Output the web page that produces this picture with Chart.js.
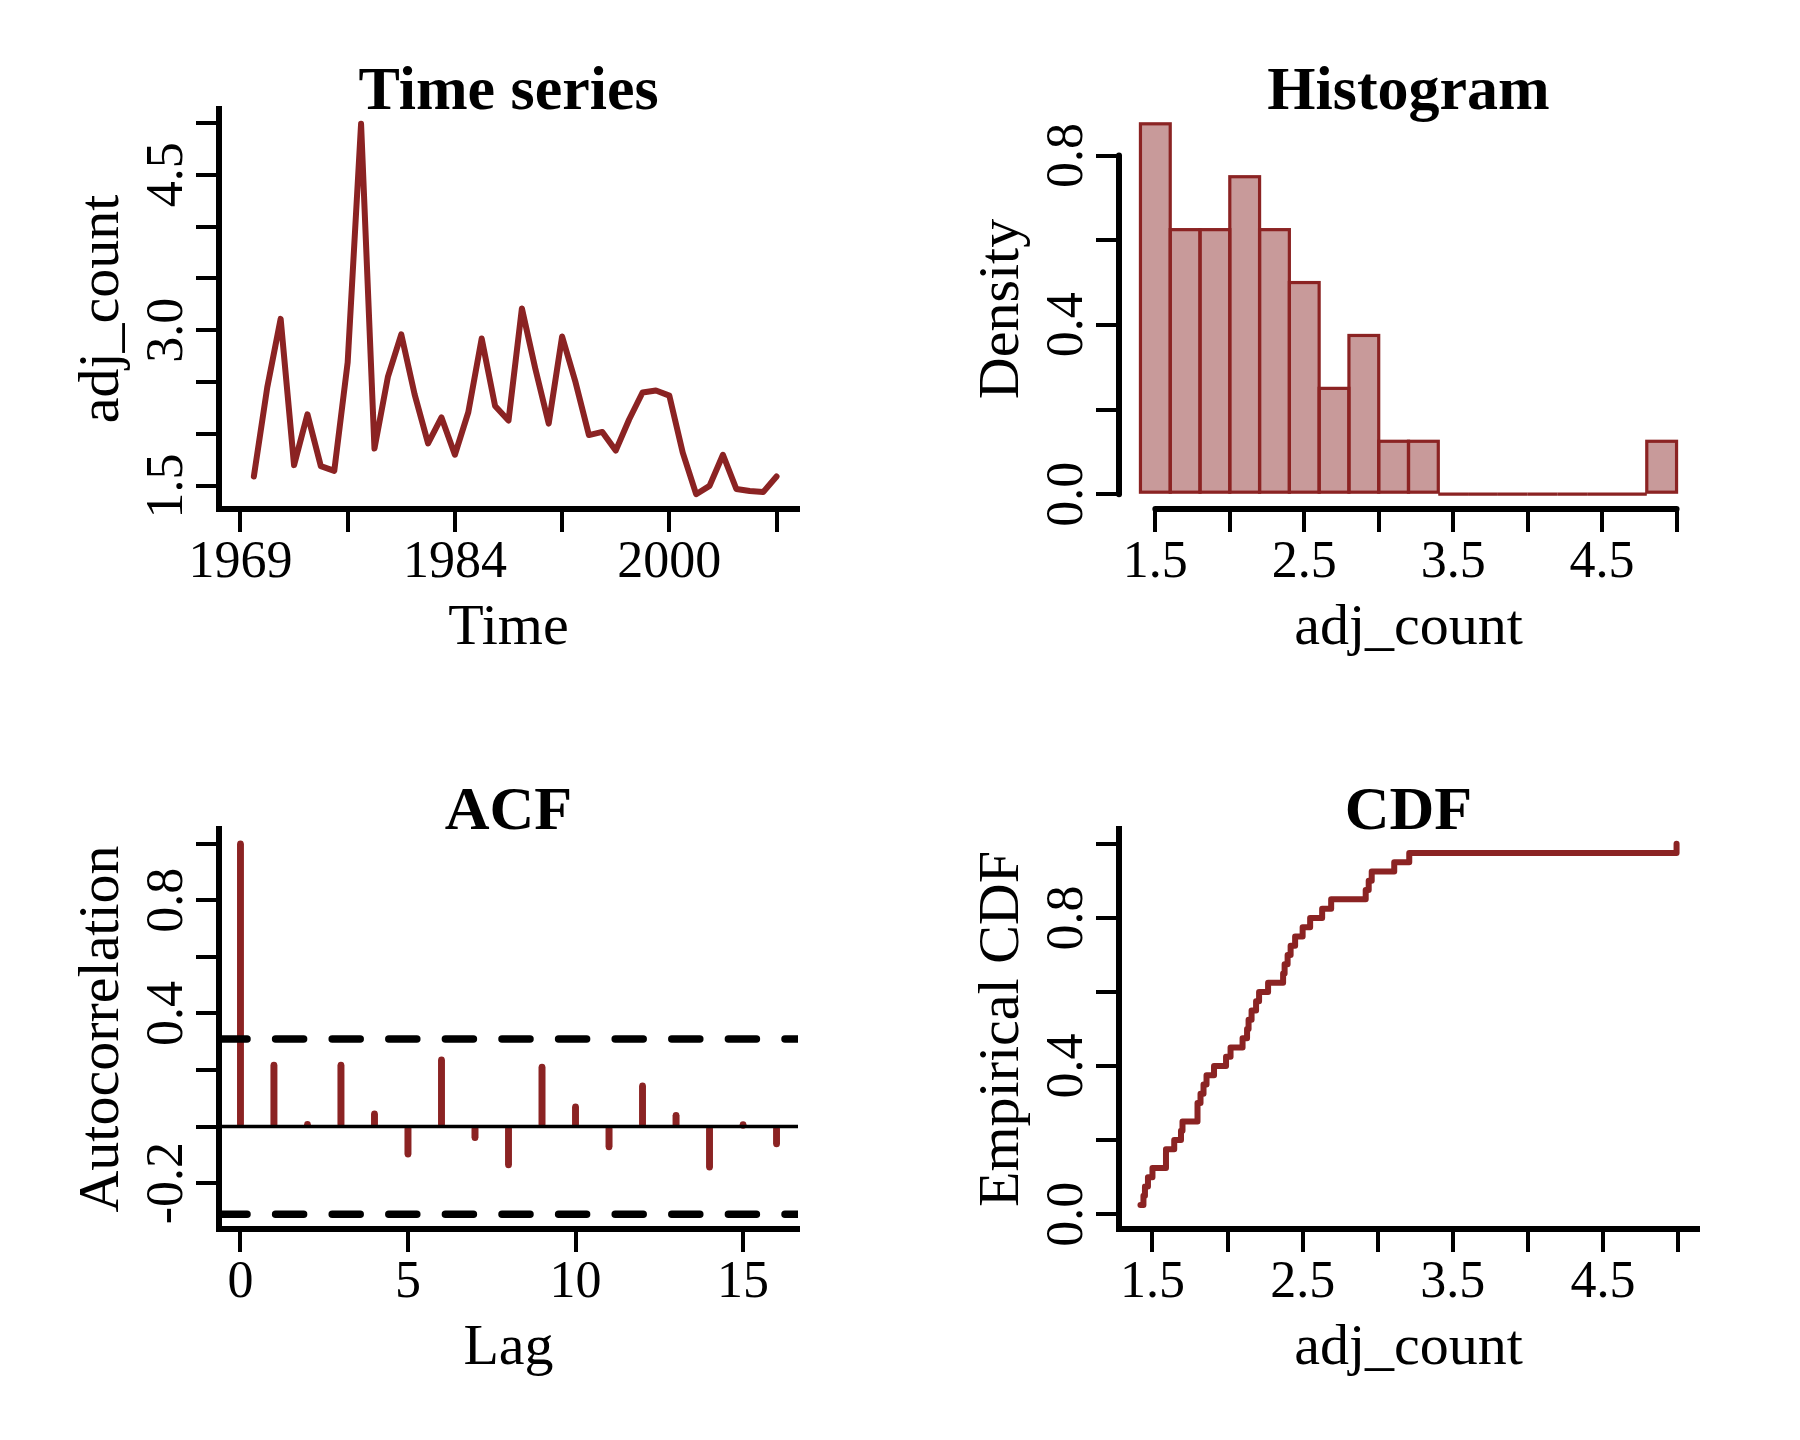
<!DOCTYPE html>
<html>
<head>
<meta charset="utf-8">
<script src="https://cdn.jsdelivr.net/npm/chart.js@4.4.1/dist/chart.umd.min.js"></script>
<style>
html, body { margin: 0; padding: 0; background: #ffffff; }
#wrap { position: relative; width: 1800px; height: 1440px; background: #ffffff; }
.panel { position: absolute; width: 900px; height: 720px; }
.panel canvas { display: block; }
</style>
</head>
<body>
<div id="wrap">
  <div class="panel" style="left:0px;top:0px"><canvas id="cTime" width="900" height="720"></canvas></div>
  <div class="panel" style="left:900px;top:0px"><canvas id="cHist" width="900" height="720"></canvas></div>
  <div class="panel" style="left:0px;top:720px"><canvas id="cAcf" width="900" height="720"></canvas></div>
  <div class="panel" style="left:900px;top:720px"><canvas id="cCdf" width="900" height="720"></canvas></div>
</div>
<script>
// ---------------- data ----------------
const years = [1970, 1971, 1972, 1973, 1974, 1975, 1976, 1977, 1978, 1979,
               1980, 1981, 1982, 1983, 1984, 1985, 1986, 1987, 1988, 1989,
               1990, 1991, 1992, 1993, 1994, 1995, 1996, 1997, 1998, 1999,
               2000, 2001, 2002, 2003, 2004, 2005, 2006, 2007, 2008, 2009];
const adjCount = [1.59, 2.45, 3.11, 1.70, 2.19, 1.69, 1.645, 2.69, 4.99, 1.86,
                  2.55, 2.96, 2.38, 1.91, 2.16, 1.80, 2.21, 2.92, 2.27, 2.13,
                  3.21, 2.63, 2.10, 2.94, 2.50, 1.99, 2.02, 1.84, 2.14, 2.40,
                  2.42, 2.37, 1.82, 1.42, 1.50, 1.80, 1.47, 1.45, 1.44, 1.59];

const timeTicks = [1969, 1977, 1985, 1993, 2001, 2009];
const timeTickLabels = ['1969', '', '1984', '', '2000', ''];

const countTicks = [1.5, 2.0, 2.5, 3.0, 3.5, 4.0, 4.5, 5.0];
const countTickLabelsY = ['1.5', '', '', '3.0', '', '', '4.5', ''];
const countTickLabelsX = ['1.5', '', '2.5', '', '3.5', '', '4.5', ''];

const histBreaks = [1.4, 1.6, 1.8, 2.0, 2.2, 2.4, 2.6, 2.8, 3.0, 3.2,
                    3.4, 3.6, 3.8, 4.0, 4.2, 4.4, 4.6, 4.8, 5.0];
const histDensity = [0.875, 0.625, 0.625, 0.75, 0.625, 0.5, 0.25, 0.375, 0.125,
                     0.125, 0, 0, 0, 0, 0, 0, 0, 0.125];
const densityTicks = [0.0, 0.2, 0.4, 0.6, 0.8];
const densityTickLabels = ['0.0', '', '0.4', '', '0.8'];

const lags = [0, 1, 2, 3, 4, 5, 6, 7, 8, 9, 10, 11, 12, 13, 14, 15, 16];
const acfValues = [1.0, 0.218, 0.008, 0.218, 0.045, -0.098, 0.236, -0.040, -0.136,
                   0.211, 0.070, -0.072, 0.144, 0.040, -0.144, 0.004, -0.062];
const acfCI = 0.31;
const lagTicks = [0, 5, 10, 15];
const lagTickLabels = ['0', '5', '10', '15'];
const acfTicks = [-0.2, 0.0, 0.2, 0.4, 0.6, 0.8, 1.0];
const acfTickLabels = ['-0.2', '', '', '0.4', '', '0.8', ''];

const cdfTicks = [0.0, 0.2, 0.4, 0.6, 0.8, 1.0];
const cdfTickLabels = ['0.0', '', '0.4', '', '0.8', ''];

// ---------------- styling ----------------
const SERIF = '"Liberation Serif", "Times New Roman", Times, serif';
const RED = '#8B2323';
const FILL = '#C89A9A';
const TICK_FONT = 52, LAB_FONT = 58, MAIN_FONT = 62;
const Y_AXIS_W = 219, X_AXIS_H = 211, RIGHT_PAD = 102, TICK_LEN = 23;
const Y_LABEL_CENTER = 168, Y_TITLE_CENTER = 103, X_TITLE_CENTER = 629;
const AXIS_LW = 6, TICK_LW = 4, SERIES_LW = 6;

Chart.defaults.font.family = SERIF;
Chart.defaults.color = '#000';

function padRange(lo, hi) { const d = (hi - lo) * 0.04; return [lo - d, hi + d]; }
const mctx = document.createElement('canvas').getContext('2d');
function textWidth(t, size) { mctx.font = size + 'px ' + SERIF; return mctx.measureText(t).width; }

function gridOpts() {
  return { display: true, offset: false, drawOnChartArea: false, drawTicks: true,
           tickLength: TICK_LEN, tickWidth: TICK_LW, lineWidth: TICK_LW, tickColor: '#000', color: '#000' };
}

function yAxis(range, ticks, labels, title, border) {
  const widest = Math.max.apply(null, labels.map(l => textWidth(l, TICK_FONT)));
  const pad = Y_AXIS_W - TICK_LEN - widest / 2 - Y_LABEL_CENTER;
  const lh = LAB_FONT * 1.2;
  return {
    type: 'linear', position: 'left', min: range[0], max: range[1], bounds: 'data',
    afterBuildTicks: s => { s.ticks = ticks.map(v => ({ value: v })); },
    afterFit: s => { s.width = Y_AXIS_W; },
    ticks: { autoSkip: false, minRotation: 90, maxRotation: 90, crossAlign: 'center', padding: pad,
             color: '#000', font: { family: SERIF, size: TICK_FONT, lineHeight: 1.2 },
             callback: (v, i) => labels[i] },
    grid: gridOpts(),
    border: { display: border, width: AXIS_LW, color: '#000' },
    title: { display: true, text: title, color: '#000',
             font: { family: SERIF, size: LAB_FONT, lineHeight: 1.2 },
             padding: { top: Y_TITLE_CENTER - lh / 2, bottom: 0 } }
  };
}

function xAxis(range, ticks, labels, title, border) {
  const lh = LAB_FONT * 1.2;
  return {
    type: 'linear', position: 'bottom', min: range[0], max: range[1], bounds: 'data', offset: false,
    afterBuildTicks: s => { s.ticks = ticks.map(v => ({ value: v })); },
    afterFit: s => { s.height = X_AXIS_H; },
    ticks: { autoSkip: false, minRotation: 0, maxRotation: 0, padding: 0,
             color: '#000', font: { family: SERIF, size: TICK_FONT, lineHeight: 1.2 },
             callback: (v, i) => labels[i] },
    grid: gridOpts(),
    border: { display: border, width: AXIS_LW, color: '#000' },
    title: { display: true, text: title, color: '#000',
             font: { family: SERIF, size: LAB_FONT, lineHeight: 1.2 },
             padding: { top: 0, bottom: (720 - X_TITLE_CENTER) - lh / 2 } }
  };
}

function baseOptions(title, scales) {
  return {
    responsive: false, animation: false, devicePixelRatio: 1, events: [],
    layout: { padding: { left: 0, top: 0, right: RIGHT_PAD, bottom: 0 } },
    plugins: {
      legend: { display: false }, tooltip: { enabled: false },
      title: { display: true, text: title, fullSize: false, color: '#000',
               font: { family: SERIF, size: MAIN_FONT, weight: 'bold', lineHeight: 0.5 },
               padding: { top: 77.5, bottom: 0.5 } }
    },
    scales: scales
  };
}

// ---------------- Time series ----------------
new Chart(document.getElementById('cTime'), {
  type: 'line',
  data: { datasets: [{
    data: years.map((yr, i) => ({ x: yr, y: adjCount[i] })),
    borderColor: RED, borderWidth: SERIES_LW, pointRadius: 0, tension: 0,
    borderJoinStyle: 'round', borderCapStyle: 'round', fill: false
  }] },
  options: baseOptions('Time series', {
    x: xAxis(padRange(timeTicks[0], years[years.length - 1]), timeTicks, timeTickLabels, 'Time', true),
    y: yAxis(padRange(Math.min.apply(null, adjCount), Math.max.apply(null, adjCount)),
             countTicks, countTickLabelsY, 'adj_count', true)
  })
});

// ---------------- Histogram ----------------
const histPlugin = {
  id: 'histOutline',
  afterDatasetsDraw(chart) {
    const { ctx } = chart;
    const meta = chart.getDatasetMeta(0);
    ctx.save();
    ctx.strokeStyle = RED; ctx.lineWidth = 3.2; ctx.lineJoin = 'miter';
    meta.data.forEach(el => {
      const p = el.getProps(['x', 'y', 'base', 'width'], true);
      ctx.strokeRect(p.x - p.width / 2, p.y, p.width, p.base - p.y);
    });
    ctx.restore();
  },
  afterDraw(chart) {
    const { ctx, chartArea: a, scales: { x, y } } = chart;
    ctx.save();
    ctx.strokeStyle = '#000'; ctx.lineWidth = AXIS_LW; ctx.lineCap = 'round';
    ctx.beginPath();
    ctx.moveTo(a.left, y.getPixelForValue(densityTicks[0]));
    ctx.lineTo(a.left, y.getPixelForValue(densityTicks[densityTicks.length - 1]));
    ctx.stroke();
    ctx.beginPath();
    ctx.moveTo(x.getPixelForValue(countTicks[0]), a.bottom);
    ctx.lineTo(x.getPixelForValue(countTicks[countTicks.length - 1]), a.bottom);
    ctx.stroke();
    ctx.restore();
  }
};
new Chart(document.getElementById('cHist'), {
  type: 'bar',
  data: { datasets: [{
    data: histDensity.map((d, i) => ({ x: (histBreaks[i] + histBreaks[i + 1]) / 2, y: d })),
    backgroundColor: FILL, borderWidth: 0, barPercentage: 1, categoryPercentage: 1
  }] },
  options: baseOptions('Histogram', {
    x: xAxis(padRange(histBreaks[0], histBreaks[histBreaks.length - 1]), countTicks, countTickLabelsX, 'adj_count', false),
    y: yAxis(padRange(0, Math.max.apply(null, histDensity)), densityTicks, densityTickLabels, 'Density', false)
  }),
  plugins: [histPlugin]
});

// ---------------- ACF ----------------
const acfPlugin = {
  id: 'acfLines',
  afterDatasetsDraw(chart) {
    const { ctx, chartArea: a, scales: { y } } = chart;
    const meta = chart.getDatasetMeta(0);
    ctx.save();
    ctx.strokeStyle = RED; ctx.lineWidth = 6.5; ctx.lineCap = 'round';
    meta.data.forEach(el => {
      const p = el.getProps(['x', 'y', 'base'], true);
      ctx.beginPath(); ctx.moveTo(p.x, p.base); ctx.lineTo(p.x, p.y); ctx.stroke();
    });
    ctx.beginPath(); ctx.rect(a.left, a.top, a.right - a.left, a.bottom - a.top); ctx.clip();
    ctx.strokeStyle = '#000'; ctx.lineCap = 'butt'; ctx.lineWidth = 3.5;
    const y0 = y.getPixelForValue(0);
    ctx.beginPath(); ctx.moveTo(a.left, y0); ctx.lineTo(a.right, y0); ctx.stroke();
    ctx.lineWidth = 7.5; ctx.lineCap = 'round'; ctx.setLineDash([28, 28.6]);
    [acfCI, -acfCI].forEach(v => {
      const py = y.getPixelForValue(v);
      ctx.beginPath(); ctx.moveTo(a.left, py); ctx.lineTo(a.right, py); ctx.stroke();
    });
    ctx.restore();
  }
};
new Chart(document.getElementById('cAcf'), {
  type: 'bar',
  data: { datasets: [{
    data: lags.map((l, i) => ({ x: l, y: acfValues[i] })),
    backgroundColor: RED, borderWidth: 0, barThickness: 6
  }] },
  options: baseOptions('ACF', {
    x: xAxis(padRange(lags[0], lags[lags.length - 1]), lagTicks, lagTickLabels, 'Lag', true),
    y: yAxis(padRange(Math.min(-acfCI, Math.min.apply(null, acfValues)), Math.max(acfCI, Math.max.apply(null, acfValues))),
             acfTicks, acfTickLabels, 'Autocorrelation', true)
  }),
  plugins: [acfPlugin]
});

// ---------------- CDF ----------------
const sortedCount = adjCount.slice().sort((a, b) => a - b);
new Chart(document.getElementById('cCdf'), {
  type: 'line',
  data: { datasets: [{
    data: sortedCount.map((v, i) => ({ x: v, y: (i + 1) / sortedCount.length })),
    borderColor: RED, borderWidth: SERIES_LW, pointRadius: 0, stepped: 'before',
    borderJoinStyle: 'round', borderCapStyle: 'round', fill: false
  }] },
  options: baseOptions('CDF', {
    x: xAxis(padRange(sortedCount[0], sortedCount[sortedCount.length - 1]), countTicks, countTickLabelsX, 'adj_count', true),
    y: yAxis(padRange(0, 1), cdfTicks, cdfTickLabels, 'Empirical CDF', true)
  })
});
</script>
</body>
</html>
